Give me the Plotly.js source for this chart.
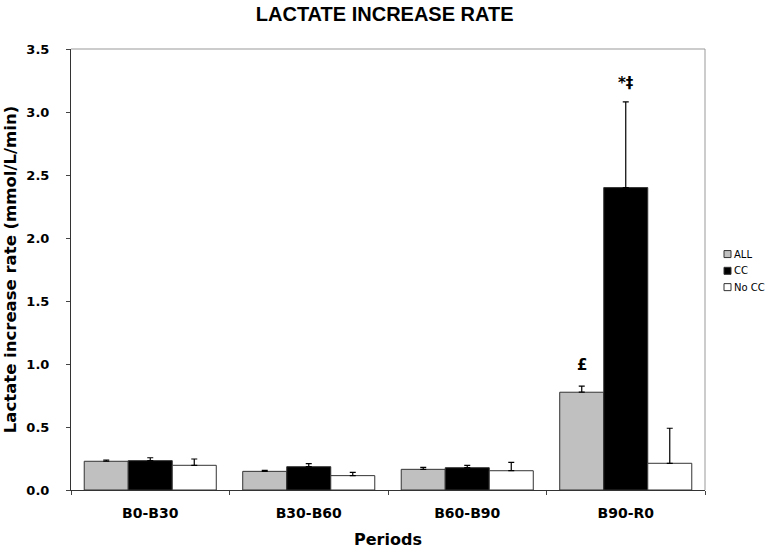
<!DOCTYPE html>
<html>
<head>
<meta charset="utf-8">
<script src="https://cdn.plot.ly/plotly-3.0.1.min.js"></script>
<style>html,body{margin:0;padding:0;background:#fff;}#chart{width:774px;height:554px;}</style>
</head>
<body>
<div id="chart"></div>
<script>
const periods = ["B0-B30", "B30-B60", "B60-B90", "B90-R0"];
const seriesNames = ["ALL", "CC", "No CC"];
const seriesColors = ["#c0c0c0", "#000000", "#ffffff"];
const allValues = [0.228, 0.148, 0.164, 0.776];
const allErrors = [0.010, 0.008, 0.016, 0.048];
const ccValues = [0.233, 0.185, 0.177, 2.40];
const ccErrors = [0.023, 0.024, 0.019, 0.68];
const noCcValues = [0.196, 0.114, 0.153, 0.212];
const noCcErrors = [0.050, 0.026, 0.067, 0.278];
const yTicks = [0, 0.5, 1.0, 1.5, 2.0, 2.5, 3.0, 3.5];
const markLabels = [
  {period: "B90-R0", series: 0, text: "£", y: 0.99},
  {period: "B90-R0", series: 1, text: "*‡", y: 3.23}
];

const bargap = 0.167;
function errBar(arr) {
  return {type: 'data', symmetric: false, array: arr, arrayminus: arr.map(() => 0),
          color: '#000', thickness: 1.2, width: 3};
}
const lineStyle = {color: '#333', width: 1};
const valueSets = [allValues, ccValues, noCcValues];
const errorSets = [allErrors, ccErrors, noCcErrors];
const traces = seriesNames.map((n, i) => ({
  type: 'bar', name: n, x: periods, y: valueSets[i], error_y: errBar(errorSets[i]),
  marker: {color: seriesColors[i], line: lineStyle}
}));
const bw = (1 - bargap) / 3;
const annotations = markLabels.map(m => ({
  x: periods.indexOf(m.period) + (m.series - 1) * bw, y: m.y, xref: 'x', yref: 'y',
  text: m.text, showarrow: false,
  font: {family: 'DejaVu Sans', size: 15, color: '#000', weight: 'bold'}
}));

// custom legend (small squares like the original)
const legendY = [0.535, 0.497, 0.460];
const shapes = [
  {type: 'line', xref: 'paper', yref: 'paper', x0: 0, x1: 1, y0: 1, y1: 1, line: {color: '#999', width: 1}},
  {type: 'line', xref: 'paper', yref: 'paper', x0: 1, x1: 1, y0: 0, y1: 1, line: {color: '#999', width: 1}}
];
seriesNames.forEach((n, i) => {
  shapes.push({type: 'rect', xref: 'paper', yref: 'paper', xsizemode: 'pixel', ysizemode: 'pixel',
    xanchor: 1, yanchor: legendY[i], x0: 19, x1: 26, y0: -3.5, y1: 3.5,
    fillcolor: seriesColors[i], line: {color: '#333', width: 1}});
  annotations.push({xref: 'paper', yref: 'paper', x: 1, y: legendY[i], xshift: 27, xanchor: 'left',
    yanchor: 'middle', showarrow: false, text: n,
    font: {family: 'DejaVu Sans', size: 10, color: '#000'}});
});

const layout = {
  width: 774, height: 554,
  margin: {l: 71, r: 69, t: 49, b: 64, pad: 0},
  paper_bgcolor: '#fff', plot_bgcolor: '#fff',
  showlegend: false,
  title: {text: '<b>LACTATE INCREASE RATE</b>', x: 0.497, xref: 'container', y: 0.975, yanchor: 'middle',
          font: {family: 'Liberation Sans, Arial', size: 20, color: '#000'}},
  barmode: 'group', bargap: bargap, bargroupgap: 0,
  xaxis: {
    type: 'category', range: [-0.5, 3.5], tickson: 'boundaries',
    ticks: 'outside', ticklen: 4, tickcolor: '#444',
    showline: true, linecolor: '#333', linewidth: 1, mirror: false,
    showgrid: false, zeroline: false, ticklabelstandoff: 10,
    tickfont: {family: 'DejaVu Sans', size: 14, color: '#000', weight: 'bold'},
    title: {text: '<b>Periods</b>', standoff: 14, font: {family: 'DejaVu Sans', size: 16, color: '#000'}}
  },
  yaxis: {
    range: [0, 3.5], tickvals: yTicks, ticktext: yTicks.map(v => v.toFixed(1)),
    ticks: 'outside', ticklen: 4, tickcolor: '#444',
    showline: true, linecolor: '#333', linewidth: 1,
    showgrid: false, zeroline: false, ticklabelstandoff: 14,
    tickfont: {family: 'DejaVu Sans', size: 13, color: '#000', weight: 'bold'},
    title: {text: '<b>Lactate increase rate (mmol/L/min)</b>', standoff: 5,
            font: {family: 'DejaVu Sans', size: 16.5, color: '#000'}}
  },
  shapes: shapes,
  annotations: annotations
};
Plotly.newPlot('chart', traces, layout, {displayModeBar: false, staticPlot: true});
</script>
</body>
</html>
